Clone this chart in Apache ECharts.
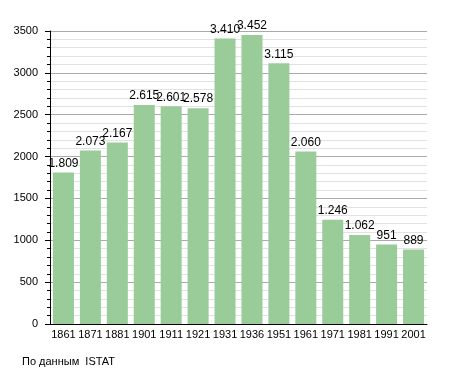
<!DOCTYPE html>
<html><head><meta charset="utf-8">
<script src="https://cdn.jsdelivr.net/npm/echarts@6/dist/echarts.min.js"></script>
<style>html,body{margin:0;padding:0;background:#fff}#c{width:455px;height:373px}</style>
</head><body><div id="c"></div>
<script>
const years = ['1861','1871','1881','1901','1911','1921','1931','1936','1951','1961','1971','1981','1991','2001'];
const population = [1809,2073,2167,2615,2601,2578,3410,3452,3115,2060,1246,1062,951,889];
const yTicks = [0,500,1000,1500,2000,2500,3000,3500];
const sourceText = 'По данным  ISTAT';

const font = 'Liberation Sans, Arial, sans-serif';
const fmt = v => v >= 1000 ? Math.floor(v/1000) + '.' + String(v%1000).padStart(3,'0') : String(v);
const chart = echarts.init(document.getElementById('c'), null, {renderer:'canvas'});
chart.setOption({
  animation:false,
  grid:{left:50,right:28,top:31,bottom:49,containLabel:false},
  graphic:[{type:'text',left:22,top:356,style:{text:sourceText,fill:'#000',font:'11px '+font}}],
  xAxis:{type:'category',data:years,
    axisLine:{lineStyle:{color:'#000',width:1}},
    axisTick:{show:false},
    axisLabel:{color:'#000',fontFamily:font,fontSize:11,margin:5,interval:0}},
  yAxis:{type:'value',min:yTicks[0],max:yTicks[yTicks.length-1],interval:500,
    axisLine:{show:true,lineStyle:{color:'#000',width:1}},
    axisTick:{show:true,length:5,lineStyle:{color:'#000'}},
    minorTick:{show:true,splitNumber:5,length:3,lineStyle:{color:'#000'}},
    splitLine:{lineStyle:{color:'#aaa',width:1}},
    minorSplitLine:{show:true,lineStyle:{color:'#e2e2e2',width:1}},
    axisLabel:{color:'#000',fontFamily:font,fontSize:11,margin:12,formatter:v=>String(v)}},
  series:[{type:'bar',data:population,barCategoryGap:'22%',
    itemStyle:{color:'#99cc99'},
    label:{show:true,position:'top',distance:3,color:'#000',fontFamily:font,fontSize:12,formatter:p=>fmt(p.value)}}]
});
</script></body></html>
